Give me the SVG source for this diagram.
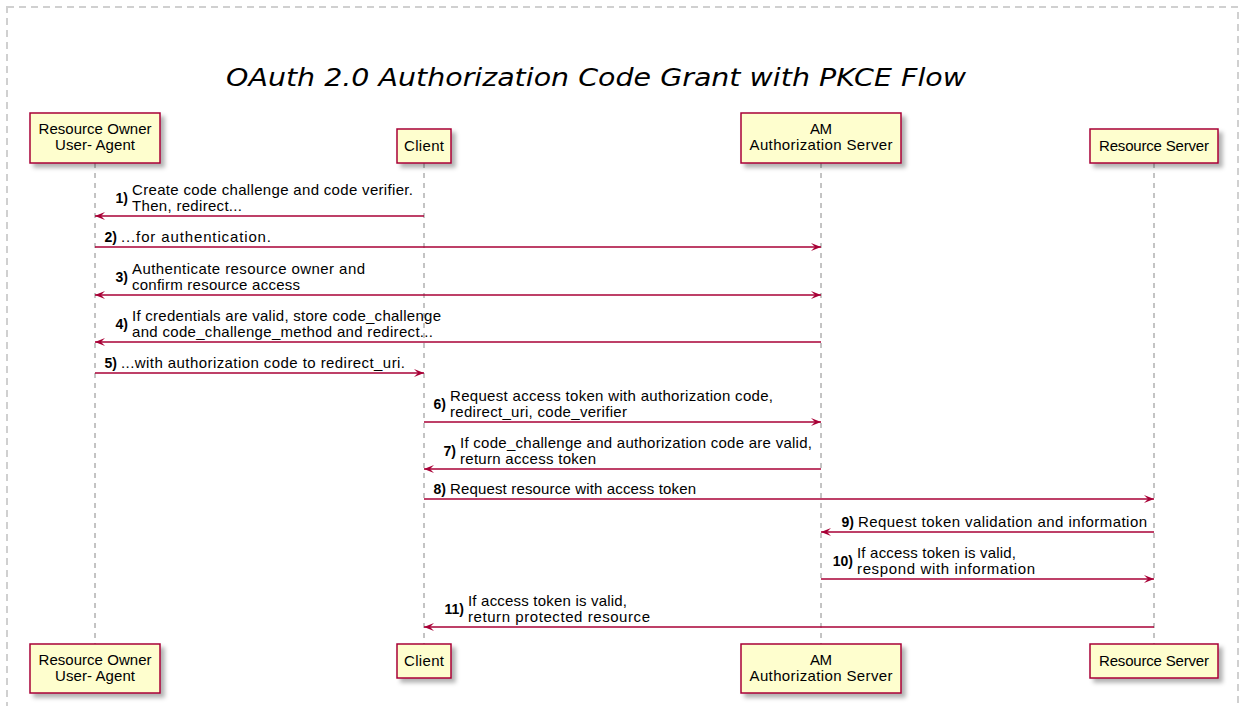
<svg xmlns="http://www.w3.org/2000/svg" width="1245" height="706" viewBox="0 0 1245 706">
<defs>
<filter id="sh" x="-10%" y="-20%" width="130%" height="160%">
<feDropShadow dx="4" dy="4" stdDeviation="2" flood-color="#000" flood-opacity="0.3"/>
</filter>
<marker id="ah" viewBox="0 0 10 8" refX="10" refY="4" markerWidth="10" markerHeight="8" markerUnits="userSpaceOnUse" orient="auto-start-reverse">
<path d="M0,0 L10,4 L0,8 L4,4 Z" fill="#A80036"/>
</marker>
<style>
.frame{fill:none;stroke:#d0d0d0;stroke-width:2;stroke-dasharray:7,5}
.title{font-family:"DejaVu Sans",sans-serif;font-style:italic;font-size:25px;fill:#000}
.box{fill:#FEFECE;stroke:#A80036;stroke-width:1.5;filter:url(#sh)}
.bt{font-family:"Liberation Sans",Arial,sans-serif;font-size:15px;fill:#000;text-anchor:middle}
.life{stroke:#888;stroke-width:1;stroke-dasharray:5,5}
.msg{stroke:#A80036;stroke-width:1.5;fill:none;marker-end:url(#ah)}
.bi{marker-start:url(#ah)}
.mt{font-family:"Liberation Sans",Arial,sans-serif;font-size:15px;fill:#000}
.num{font-family:"Liberation Sans",Arial,sans-serif;font-size:14px;font-weight:bold;fill:#000;text-anchor:end}
</style>
</defs>
<rect x="0" y="0" width="1245" height="706" fill="#fff"/>
<rect class="frame" x="7" y="7" width="1231" height="740"/>
<text class="title" x="226" y="86" textLength="740" lengthAdjust="spacingAndGlyphs">OAuth 2.0 Authorization Code Grant with PKCE Flow</text>

<g id="lifelines">
<line class="life" x1="95" y1="163" x2="95" y2="644"/>
<line class="life" x1="424" y1="163" x2="424" y2="644"/>
<line class="life" x1="821" y1="163" x2="821" y2="644"/>
<line class="life" x1="1154" y1="163" x2="1154" y2="644"/>
</g>

<g id="resource-owner">
<rect class="box" x="30" y="113" width="130" height="50"/>
<text class="bt" x="95" y="134" textLength="113">Resource Owner</text>
<text class="bt" x="95" y="150" textLength="80">User- Agent</text>
<rect class="box" x="30" y="644" width="130" height="49"/>
<text class="bt" x="95" y="665" textLength="113">Resource Owner</text>
<text class="bt" x="95" y="681" textLength="80">User- Agent</text>
</g>

<g id="client">
<rect class="box" x="397" y="129" width="54" height="34"/>
<text class="bt" x="424" y="151" textLength="40">Client</text>
<rect class="box" x="397" y="644" width="54" height="34"/>
<text class="bt" x="424" y="666" textLength="40">Client</text>
</g>

<g id="am-server">
<rect class="box" x="741" y="113" width="160" height="50"/>
<text class="bt" x="821" y="134" textLength="22">AM</text>
<text class="bt" x="821" y="150" textLength="143">Authorization Server</text>
<rect class="box" x="741" y="644" width="160" height="49"/>
<text class="bt" x="821" y="665" textLength="22">AM</text>
<text class="bt" x="821" y="681" textLength="143">Authorization Server</text>
</g>

<g id="resource-server">
<rect class="box" x="1090" y="129" width="128" height="34"/>
<text class="bt" x="1154" y="151" textLength="110">Resource Server</text>
<rect class="box" x="1090" y="644" width="128" height="34"/>
<text class="bt" x="1154" y="666" textLength="110">Resource Server</text>
</g>

<g id="connectors">
<line class="msg" x1="424" y1="216" x2="95" y2="216"/>
<line class="msg" x1="95" y1="247" x2="821" y2="247"/>
<line class="msg bi" x1="95" y1="295" x2="821" y2="295"/>
<line class="msg" x1="821" y1="342" x2="95" y2="342"/>
<line class="msg" x1="95" y1="373" x2="424" y2="373"/>
<line class="msg" x1="424" y1="422" x2="821" y2="422"/>
<line class="msg" x1="821" y1="469" x2="424" y2="469"/>
<line class="msg" x1="424" y1="499" x2="1154" y2="499"/>
<line class="msg" x1="1154" y1="532" x2="821" y2="532"/>
<line class="msg" x1="821" y1="579" x2="1154" y2="579"/>
<line class="msg" x1="1154" y1="627" x2="424" y2="627"/>
</g>

<g id="labels">
<text class="num" x="128" y="203">1)</text>
<text class="mt" x="132" y="195" textLength="281">Create code challenge and code verifier.</text>
<text class="mt" x="132" y="211" textLength="110">Then, redirect...</text>

<text class="num" x="117" y="242">2)</text>
<text class="mt" x="121" y="242" textLength="150">...for authentication.</text>

<text class="num" x="128" y="282">3)</text>
<text class="mt" x="132" y="274" textLength="233">Authenticate resource owner and</text>
<text class="mt" x="132" y="290" textLength="168">confirm resource access</text>

<text class="num" x="128" y="329">4)</text>
<text class="mt" x="132" y="321" textLength="309">If credentials are valid, store code_challenge</text>
<text class="mt" x="132" y="337" textLength="301">and code_challenge_method and redirect...</text>

<text class="num" x="117" y="368">5)</text>
<text class="mt" x="121" y="368" textLength="284">...with authorization code to redirect_uri.</text>

<text class="num" x="446" y="409">6)</text>
<text class="mt" x="450" y="401" textLength="323">Request access token with authorization code,</text>
<text class="mt" x="450" y="417" textLength="177">redirect_uri, code_verifier</text>

<text class="num" x="456" y="456">7)</text>
<text class="mt" x="460" y="448" textLength="352">If code_challenge and authorization code are valid,</text>
<text class="mt" x="460" y="464" textLength="136">return access token</text>

<text class="num" x="446" y="494">8)</text>
<text class="mt" x="450" y="494" textLength="246">Request resource with access token</text>

<text class="num" x="854" y="527">9)</text>
<text class="mt" x="858" y="527" textLength="289">Request token validation and information</text>

<text class="num" x="853" y="566">10)</text>
<text class="mt" x="857" y="558" textLength="159">If access token is valid,</text>
<text class="mt" x="857" y="574" textLength="178">respond with information</text>

<text class="num" x="464" y="614">11)</text>
<text class="mt" x="468" y="606" textLength="159">If access token is valid,</text>
<text class="mt" x="468" y="622" textLength="182">return protected resource</text>
</g>
</svg>
